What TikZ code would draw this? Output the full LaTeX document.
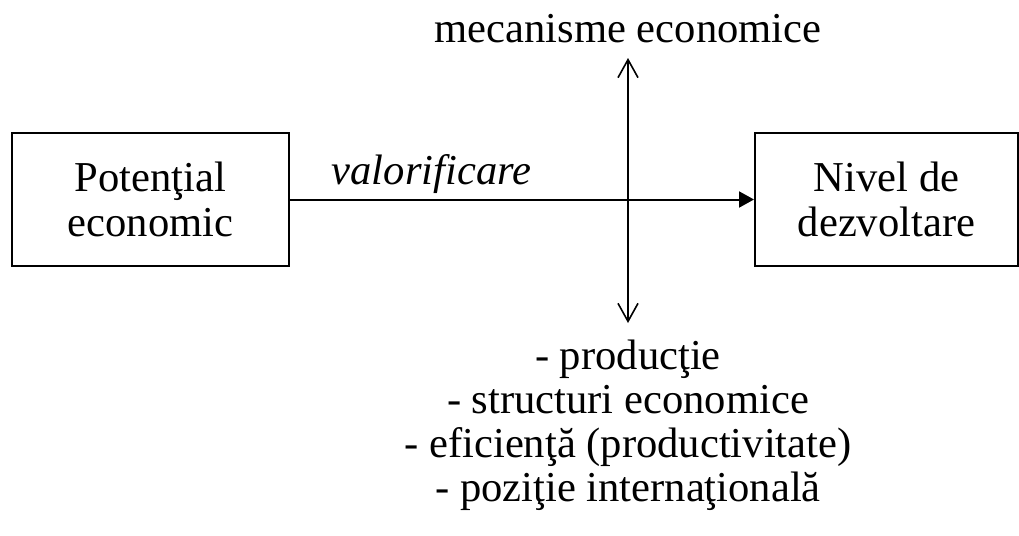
\documentclass[tikz,border=0pt]{standalone}
\usepackage{fontspec}
\setmainfont{Liberation Serif}
\usetikzlibrary{arrows.meta,positioning}

\begin{document}
\begin{tikzpicture}[x=0.5pt,y=-0.5pt,line width=1pt,
                    font=\fontsize{21.3}{22.5}\selectfont,
                    box node/.style={draw,align=center,inner sep=0pt},
                    text node/.style={align=center,inner sep=0pt},
                    ]
  \useasboundingbox (0,0) rectangle (1019,536);
  \node[box node,minimum width=138.5pt,minimum height=66.5pt] (pot) at (150.5,199.5) {Poten\c{t}ial\\economic};
  \node[box node,minimum width=131.5pt,minimum height=66.5pt] (niv) at (886.5,199.5) {Nivel de\\dezvoltare};
  \node[text node,anchor=base] (mec) at (628,42) {mecanisme economice};
  % base of a multi-line node is its last line
  \node[text node,anchor=base,font=\fontsize{21.3}{21.9}\selectfont] (lst) at (628,501) {- produc\c{t}ie\\- structuri economice\\- eficien\c{t}\u{a} (productivitate)\\- pozi\c{t}ie interna\c{t}ional\u{a}};
  \coordinate (up) at (628,58);
  \coordinate (down) at (628,323);

  \draw[-{Triangle[length=7.5pt,width=8pt]}] (pot) -- node[pos=0.305,anchor=base,yshift=7.5pt,font=\fontsize{21.3}{22}\selectfont\itshape] (val) {valorificare} (niv);
  \draw[{Straight Barb[length=9pt,width=10pt,line width=0.8pt]}-{Straight Barb[length=9pt,width=10pt,line width=0.8pt]}] (up) -- (down);
\end{tikzpicture}
\end{document}
